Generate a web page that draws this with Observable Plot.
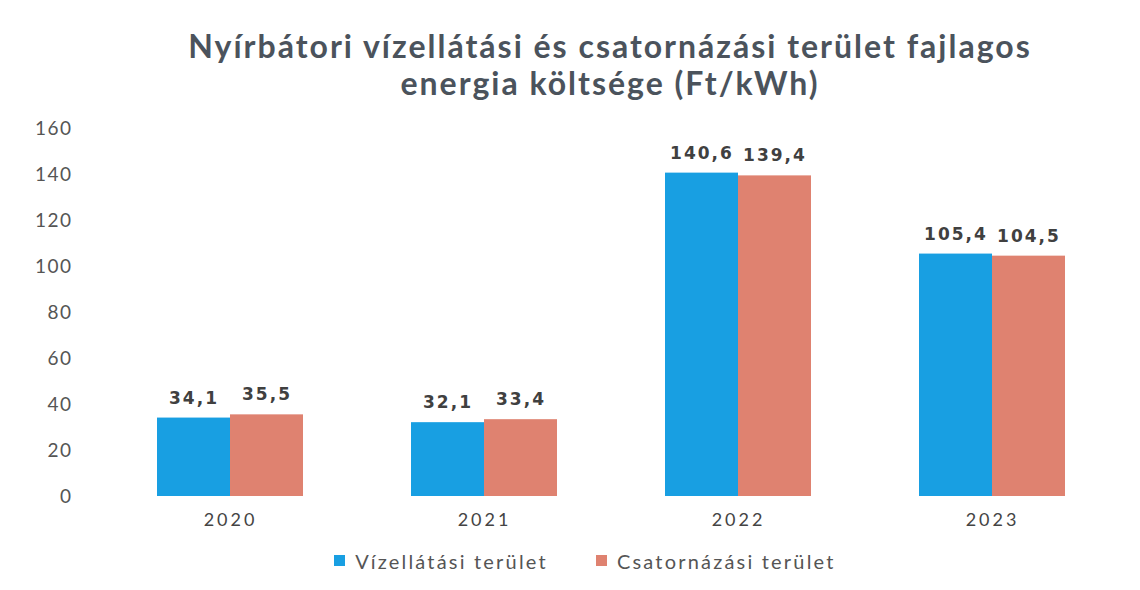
<!DOCTYPE html>
<html>
<head>
<meta charset="utf-8">
<script src="https://cdn.jsdelivr.net/npm/d3@7"></script>
<script src="https://cdn.jsdelivr.net/npm/@observablehq/plot@0.6"></script>
<style>
  html, body { margin: 0; padding: 0; background: #fff; }
  body { width: 1140px; height: 590px; overflow: hidden; font-family: Lato, "Open Sans", sans-serif; }
  #title { height: 110px; box-sizing: border-box; padding-top: 27px; text-align: center; padding-left: 80px;
    font-weight: bold; font-size: 32px; line-height: 37px; color: #4b535c; letter-spacing: 2px; }
  #legend { display: flex; justify-content: center; margin-top: 4px; padding-left: 50px; }
  #legend span { letter-spacing: 2.2px; }
  g[aria-label="fx-axis tick label"] text { letter-spacing: 3px; }
  g[aria-label="y-axis tick label"] text { letter-spacing: 1.5px; }
  g[aria-label="text"] text { letter-spacing: 2px; }
</style>
</head>
<body>
<div id="title">Nyírbátori vízellátási és csatornázási terület fajlagos<br>energia költsége (Ft/kWh)</div>
<div id="chart"></div>
<div id="legend"></div>
<script>
const years = ["2020", "2021", "2022", "2023"];
const seriesNames = ["Vízellátási terület", "Csatornázási terület"];
const vizellatas = [34.1, 32.1, 140.6, 105.4];
const csatornazas = [35.5, 33.4, 139.4, 104.5];
const colors = ["#189fe2", "#df8270"];
const yTicks = [0, 20, 40, 60, 80, 100, 120, 140, 160];

const rows = [];
years.forEach((y, i) => {
  rows.push({year: y, series: seriesNames[0], value: vizellatas[i]});
  rows.push({year: y, series: seriesNames[1], value: csatornazas[i]});
});
const fmt = d => d.toFixed(1).replace(".", ",");

const plot = Plot.plot({
  width: 1140,
  height: 430,
  marginTop: 18,
  marginBottom: 44,
  marginLeft: 90,
  marginRight: 9,
  style: {fontFamily: "Lato, 'Open Sans', sans-serif", background: "#fff", overflow: "visible"},
  fx: {domain: years, paddingInner: 0.427, paddingOuter: 0.255, label: null, axis: null},
  x: {domain: seriesNames, padding: 0, axis: null},
  y: {domain: [0, 160], ticks: yTicks, label: null},
  color: {domain: seriesNames, range: colors},
  marks: [
    Plot.axisY({ticks: yTicks, tickSize: 0, tickPadding: 85, fontSize: 19, fill: "#555", label: null}),
    Plot.axisFx({anchor: "bottom", tickSize: 0, tickPadding: 17, fontSize: 18, fill: "#444", label: null}),
    Plot.barY(rows, {fx: "year", x: "series", y: "value", fill: "series", inset: 0}),
    Plot.text(rows, {fx: "year", x: "series", y: "value", text: d => fmt(d.value), dy: -20,
      fontSize: 17, fontWeight: "bold", fill: "#404040", lineAnchor: "middle",
      fontFamily: "DejaVu Sans"})
  ]
});
document.getElementById("chart").appendChild(plot);

const legend = Plot.legend({
  color: {domain: seriesNames, range: colors},
  swatchSize: 11,
  style: {fontSize: "20px", color: "#555", gap: "28px", fontFamily: "Lato, 'Open Sans', sans-serif"}
});
document.getElementById("legend").appendChild(legend);
</script>
</body>
</html>
